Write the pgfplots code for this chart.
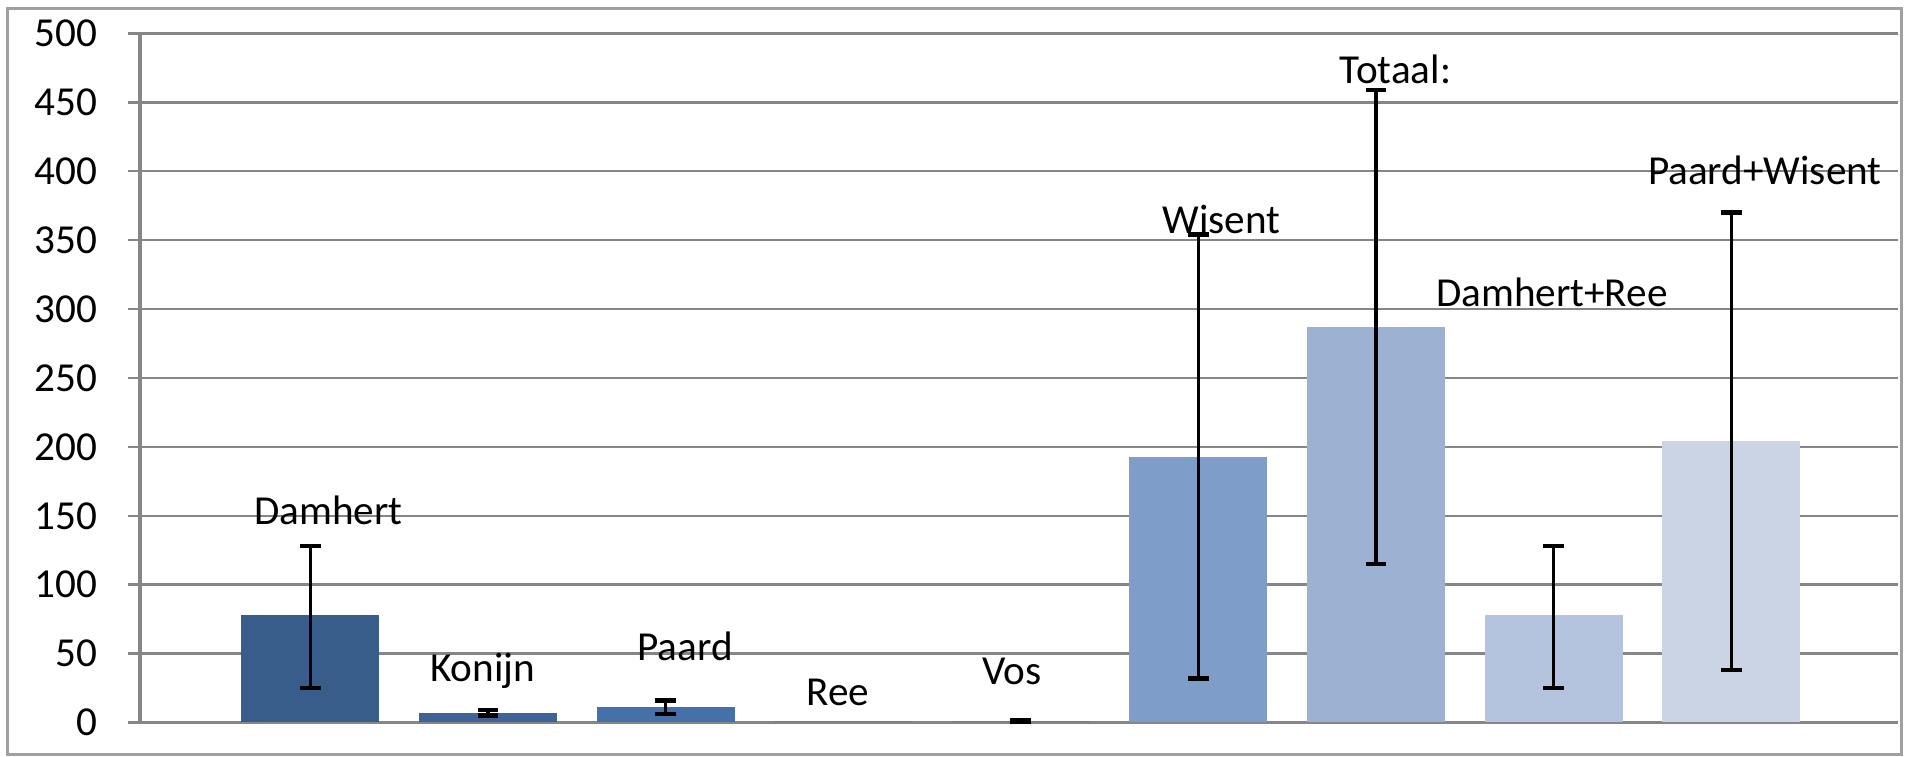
\documentclass[border=0pt]{standalone}
\usepackage{pgfplots}
\pgfplotsset{compat=1.18}
\usepackage{fontspec}
\setmainfont{Carlito}
\definecolor{gridc}{HTML}{868686}
\definecolor{bordc}{HTML}{A0A0A0}
\definecolor{c1}{HTML}{385D8A}
\definecolor{c2}{HTML}{3E6497}
\definecolor{c3}{HTML}{4570A8}
\definecolor{c4}{HTML}{4F81BD}
\definecolor{c5}{HTML}{4F81BD}
\definecolor{c6}{HTML}{7F9DC9}
\definecolor{c7}{HTML}{9DB1D3}
\definecolor{c8}{HTML}{B4C3DE}
\definecolor{c9}{HTML}{CAD4E5}
\pgfplotsset{eb/.style={draw=none,
  error bars/y dir=both, error bars/y explicit,
  error bars/error bar style={black, line width=0.8pt},
  error bars/error mark options={black, rotate=90, mark size=2.6pt, line width=1.1pt}}}
\begin{document}
\fontsize{10.3}{12}\selectfont
\begin{tikzpicture}
\begin{axis}[
  at={(0,0)}, anchor=south west,
  scale only axis,
  width=439.5pt, height=172.25pt,
  xmin=0.04, xmax=9.94,
  ymin=0, ymax=500,
  ytick={0,50,...,500},
  xtick=\empty,
  axis x line=none,
  axis y line*=left,
  y axis line style={draw=gridc, line width=0.8pt},
  ymajorgrids,
  grid style={draw=gridc, line width=0.6pt},
  tick align=outside,
  major tick length=3pt,
  ytick style={draw=gridc, line width=0.6pt},
  yticklabel style={font=\fontsize{10.3}{12}\selectfont, inner sep=0pt, xshift=-7.5pt},
  /pgf/number format/assume math mode=true,
  ybar, bar width=34.5pt, bar shift=0pt,
  clip=false,
]
\addplot[eb, fill=c1] coordinates {(1,78) += (0,50) -= (0,53)};
\addplot[eb, fill=c2] coordinates {(2,7) +- (0,2)};
\addplot[eb, fill=c3] coordinates {(3,11) +- (0,5)};
\addplot[draw=none, fill=c4] coordinates {(4,1)};
\addplot[eb, fill=c5] coordinates {(5,1) +- (0,0.6)};
\addplot[eb, fill=c6] coordinates {(6,193) +- (0,161)};
\addplot[eb, fill=c7] coordinates {(7,287) +- (0,172)};
\addplot[eb, fill=c8] coordinates {(8,78) += (0,50) -= (0,53)};
\addplot[eb, fill=c9] coordinates {(9,204) +- (0,166)};
\node at (axis cs:1.10,154) {Damhert};
\node at (axis cs:1.97,37.5) {Konijn};
\node at (axis cs:3.11,55) {Paard};
\node at (axis cs:3.97,21.5) {Ree};
\node at (axis cs:4.95,37) {Vos};
\node at (axis cs:6.13,365) {Wisent};
\node at (axis cs:7.11,474) {Totaal:};
\node at (axis cs:7.99,312) {Damhert+Ree};
\node at (axis cs:9.19,401) {Paard+Wisent};
\end{axis}
\draw[bordc, line width=0.75pt] (-33pt,-8.125pt) rectangle (440.4pt,178.4pt);
\useasboundingbox (-35pt,-8.625pt) rectangle (443pt,180.625pt);
\end{tikzpicture}
\end{document}
